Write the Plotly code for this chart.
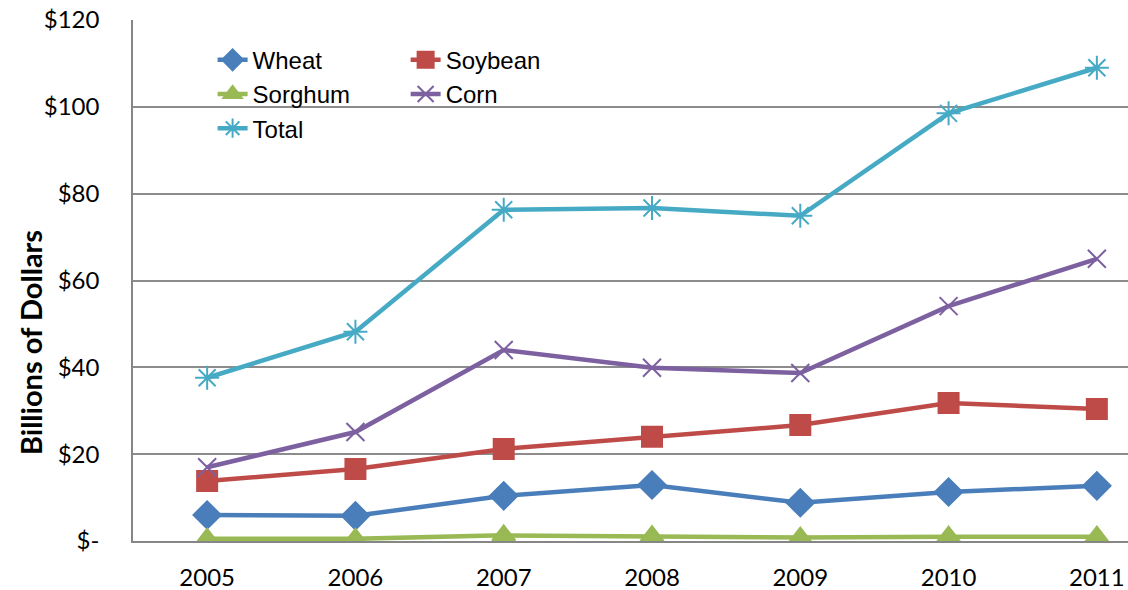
import plotly.graph_objects as go

years = ["2005", "2006", "2007", "2008", "2009", "2010", "2011"]
wheat = [6.0, 5.8, 10.4, 12.9, 8.8, 11.3, 12.7]
soybean = [13.8, 16.6, 21.2, 24.0, 26.7, 31.8, 30.4]
sorghum = [0.5, 0.5, 1.3, 1.1, 0.8, 1.0, 1.0]
corn = [17.0, 25.1, 44.0, 39.9, 38.7, 54.1, 65.0]
total = [37.6, 48.2, 76.3, 76.7, 74.9, 98.5, 109.0]

y_ticks = [0, 20, 40, 60, 80, 100, 120]
y_ticktext = ["$-", "$20", "$40", "$60", "$80", "$100", "$120"]

series = [
    ("Wheat", wheat, "#4A7EBB", "diamond", 21, "legend"),
    ("Soybean", soybean, "#BE4B48", "square", 20, "legend2"),
    ("Sorghum", sorghum, "#98B954", "triangle-up", 20, "legend"),
    ("Corn", corn, "#7D60A0", "x-thin-open", 18, "legend2"),
    ("Total", total, "#46AAC5", "asterisk-open", 20, "legend"),
]

fig = go.Figure()
for name, vals, color, sym, size, lg in series:
    fig.add_trace(go.Scatter(
        x=years, y=vals, name=name, mode="lines+markers",
        line=dict(color=color, width=4.5),
        marker=dict(symbol=sym, size=size, color=color,
                    line=dict(color=color, width=2)),
        legend=lg,
    ))

legend_font = dict(family="Liberation Sans, Arial, sans-serif", size=24, color="#000000")
tick_font = dict(family="Lato, Carlito, sans-serif", size=24, color="#000000")

fig.update_layout(
    width=1128, height=590,
    margin=dict(l=133, r=0, t=20, b=49),
    paper_bgcolor="white", plot_bgcolor="white",
    showlegend=True,
    legend=dict(x=0.08, y=0.966, xanchor="left", yanchor="top",
                font=legend_font, bgcolor="rgba(0,0,0,0)", tracegroupgap=0),
    legend2=dict(x=0.274, y=0.966, xanchor="left", yanchor="top",
                 font=legend_font, bgcolor="rgba(0,0,0,0)", tracegroupgap=0),
    xaxis=dict(
        type="category", range=[-0.5, 6.21], automargin=False,
        showgrid=False, showline=True, linecolor="#868686", linewidth=1.5,
        ticks="", ticklabelstandoff=14,
        tickfont=tick_font,
    ),
    yaxis=dict(
        range=[0, 120], tickvals=y_ticks, ticktext=y_ticktext, automargin=False,
        showgrid=True, gridcolor="#8C8C8C", gridwidth=1.5,
        showline=True, linecolor="#868686", linewidth=1.5,
        zeroline=False, ticks="", ticklabelstandoff=27,
        tickfont=tick_font,
    ),
    annotations=[dict(
        text="<b>Billions of Dollars</b>", textangle=-90,
        xref="paper", yref="paper", x=-0.1035, y=0.38,
        xanchor="center", yanchor="middle", showarrow=False,
        font=dict(family="Lato, Carlito, sans-serif", size=29, color="#000000"),
    )],
)

fig.write_html("out.html", config={"displayModeBar": False},
               post_script="document.body.style.margin='0';document.body.style.overflow='hidden';")
